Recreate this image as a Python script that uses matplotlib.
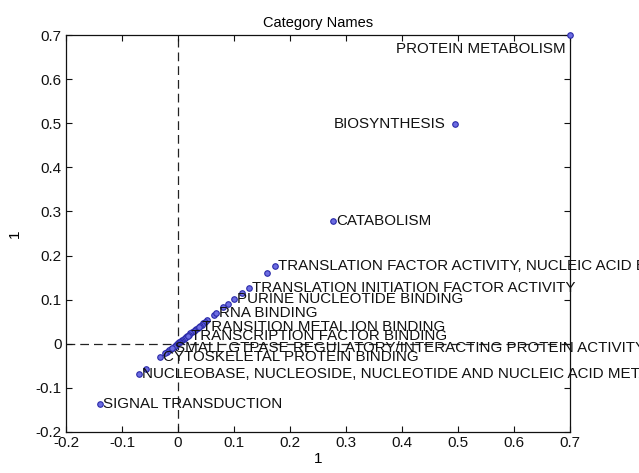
import numpy as np
import matplotlib.pyplot as plt

plt.rcParams['font.family'] = ['Liberation Sans', 'DejaVu Sans']

# labelled categories and their scores
label_names = [
    'PROTEIN METABOLISM',
    'BIOSYNTHESIS',
    'CATABOLISM',
    'TRANSLATION FACTOR ACTIVITY, NUCLEIC ACID BINDING',
    'TRANSLATION INITIATION FACTOR ACTIVITY',
    'PURINE NUCLEOTIDE BINDING',
    'RNA BINDING',
    'TRANSITION METAL ION BINDING',
    'TRANSCRIPTION FACTOR BINDING',
    'SMALL GTPASE REGULATORY/INTERACTING PROTEIN ACTIVITY',
    'CYTOSKELETAL PROTEIN BINDING',
    'NUCLEOBASE, NUCLEOSIDE, NUCLEOTIDE AND NUCLEIC ACID METABOLISM',
    'SIGNAL TRANSDUCTION',
]
label_x = [0.700, 0.495, 0.277, 0.174, 0.127, 0.100, 0.068, 0.037, 0.018, -0.011, -0.032, -0.070, -0.139]
label_y = [0.700, 0.498, 0.278, 0.176, 0.126, 0.101, 0.070, 0.037, 0.017, -0.010, -0.030, -0.069, -0.137]

# remaining (unlabelled) categories
other_x = [0.159, 0.114, 0.089, 0.080, 0.064, 0.052, 0.048, 0.045, 0.042, 0.040, 0.035,
           0.032, 0.030, 0.028, 0.025, 0.022, 0.020, 0.016, 0.014, 0.012, 0.010, 0.008,
           0.006, 0.004, 0.002, 0.000, -0.002, -0.004, -0.006, -0.008, -0.013, -0.016,
           -0.020, -0.024, -0.057]
other_y = [0.160, 0.115, 0.090, 0.083, 0.066, 0.054, 0.049, 0.047, 0.043, 0.040, 0.036,
           0.034, 0.031, 0.029, 0.026, 0.024, 0.021, 0.018, 0.015, 0.013, 0.011, 0.009,
           0.007, 0.005, 0.003, 0.001, -0.001, -0.003, -0.005, -0.007, -0.012, -0.015,
           -0.018, -0.022, -0.058]

# label placement in offset points, (dx, dy, ha)
label_offsets = {
    'PROTEIN METABOLISM': (-3, -10, 'right'),
    'BIOSYNTHESIS': (-7, 0, 'right'),
}

fig = plt.figure(figsize=(6.39, 4.73), dpi=100)
ax = fig.add_axes([0.1033, 0.0867, 0.7887, 0.8393])

ax.axvline(0, color='#222222', linestyle=(0, (7, 4)), linewidth=0.9, zorder=1)
ax.axhline(0, color='#222222', linestyle=(0, (7, 4)), linewidth=0.9, zorder=1)

all_x = np.array(other_x + label_x)
all_y = np.array(other_y + label_y)
ax.plot(all_x, all_y, 'o', markersize=4, markerfacecolor='#6c6ce2',
        markeredgecolor='#2a2aa8', markeredgewidth=0.8, clip_on=False, zorder=3)

for name, x, y in zip(label_names, label_x, label_y):
    dx, dy, ha = label_offsets.get(name, (2, 0, 'left'))
    ax.annotate(name, (x, y), xytext=(dx, dy), textcoords='offset points',
                ha=ha, va='center', fontsize=10.9, color='#111111',
                annotation_clip=False, zorder=4)

ax.set_xlim(-0.2, 0.7)
ax.set_ylim(-0.2, 0.7)
ax.set_xticks(np.arange(-0.2, 0.71, 0.1))
ax.set_yticks(np.arange(-0.2, 0.71, 0.1))
ax.set_xticklabels(['-0.2', '-0.1', '0', '0.1', '0.2', '0.3', '0.4', '0.5', '0.6', '0.7'])
ax.set_yticklabels(['-0.2', '-0.1', '0', '0.1', '0.2', '0.3', '0.4', '0.5', '0.6', '0.7'])
ax.tick_params(direction='in', length=4, width=0.8, labelsize=11, top=True, right=True,
               colors='#111111', pad=3)
for spine in ax.spines.values():
    spine.set_linewidth(0.9)
    spine.set_color('#111111')

ax.set_title('Category Names', fontsize=10.5, pad=6)
ax.set_xlabel('1', fontsize=11, labelpad=1)
ax.set_ylabel('1', fontsize=11, labelpad=10)

fig.savefig('out.png', dpi=100)
